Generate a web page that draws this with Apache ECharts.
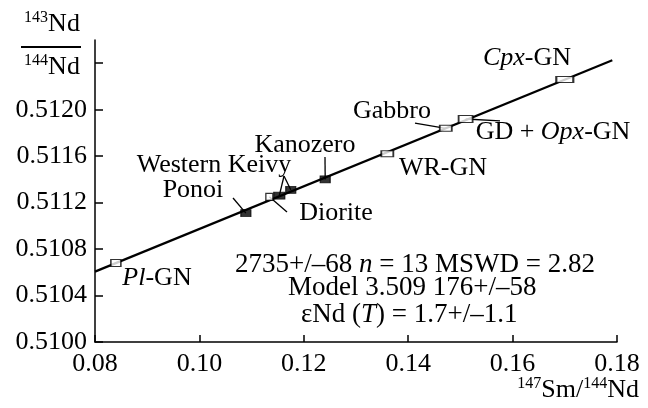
<!DOCTYPE html>
<html>
<head>
<meta charset="utf-8">
<script src="https://cdn.jsdelivr.net/npm/echarts@6/dist/echarts.min.js"></script>
<style>
  html, body { margin: 0; padding: 0; background: #fff; }
  #chart { width: 648px; height: 408px; }
</style>
</head>
<body>
<div id="chart"></div>
<script>
// Axis ticks
const xTicks = [0.08, 0.10, 0.12, 0.14, 0.16, 0.18];
const yTicks = [0.5100, 0.5104, 0.5108, 0.5112, 0.5116, 0.5120, 0.5124];
const yTickLabels = [0.5100, 0.5104, 0.5108, 0.5112, 0.5116, 0.5120];

// Open boxes: mineral separates and whole rock
const openNames = ['Pl-GN', 'Diorite', 'WR-GN', 'Gabbro', 'GD + Opx-GN', 'Cpx-GN'];
const openX = [0.0840, 0.1134, 0.1360, 0.1472, 0.1510, 0.1700];
const openY = [0.51068, 0.51125, 0.51162, 0.51184, 0.51192, 0.51226];

// Filled boxes: regional samples
const filledNames = ['Ponoi', 'Western Keivy', 'Western Keivy', 'Kanozero'];
const filledX = [0.1089, 0.1153, 0.1175, 0.1241];
const filledY = [0.51111, 0.51126, 0.51131, 0.51140];

// Isochron end points
const isochronX = [0.08, 0.1791];
const isochronY = [0.510606, 0.512425];

// Label leader anchors (data space) and the sample each one points to
const leaderAnchors = [
  { from: [0.10644, 0.511240], set: 'filled', idx: 0 },
  { from: [0.11678, 0.511119], set: 'open', idx: 1 },
  { from: [0.11621, 0.511429], set: 'filled', idx: 1 },
  { from: [0.11621, 0.511429], set: 'filled', idx: 2 },
  { from: [0.12406, 0.511593], set: 'filled', idx: 3 },
  { from: [0.14130, 0.511885], set: 'open', idx: 3 },
  { from: [0.15759, 0.511903], set: 'open', idx: 4 }
];

// Box sizes (error boxes drawn as rectangles)
const openBoxSize = [[10, 7], [7, 7], [12, 6], [12, 6], [14, 7], [17, 6]];
const filledBoxSize = [[10, 7], [11, 7], [10, 7], [10, 7]];

const FONT = 'Liberation Serif';
const FS = 26;

function pt(set, i) {
  return set === 'open' ? [openX[i], openY[i]] : [filledX[i], filledY[i]];
}

const leaderSeries = leaderAnchors.map(function (a) {
  return {
    type: 'line',
    data: [a.from, pt(a.set, a.idx)],
    symbol: 'none',
    silent: true,
    z: 2,
    lineStyle: { color: '#000', width: 1.3 }
  };
});

function txt(x, y, text, opts) {
  opts = opts || {};
  const fs = opts.fontSize || FS;
  return {
    type: 'text',
    x: x, y: y,
    z: 10,
    style: {
      text: text,
      fontFamily: FONT,
      fontSize: fs,
      fill: '#000',
      align: opts.align || 'center',
      verticalAlign: opts.verticalAlign || 'middle',
      rich: {
        i: { fontFamily: FONT, fontSize: fs, fontStyle: 'italic', fill: '#000' },
        m: { fontFamily: FONT, fontSize: fs, fill: '#000', lineHeight: 28 },
        s: { fontFamily: FONT, fontSize: 16, fill: '#000', verticalAlign: 'top', lineHeight: 28 }
      }
    }
  };
}

const chart = echarts.init(document.getElementById('chart'));

chart.setOption({
  animation: false,
  backgroundColor: '#fff',
  grid: { left: 95, right: 31, top: 40, bottom: 66 },
  xAxis: {
    type: 'value',
    min: xTicks[0], max: xTicks[xTicks.length - 1], interval: 0.02,
    axisLine: { lineStyle: { color: '#000', width: 1.5 } },
    axisTick: { inside: true, length: 7, lineStyle: { color: '#000', width: 1.5 } },
    splitLine: { show: false },
    axisLabel: {
      color: '#000', fontFamily: FONT, fontSize: FS, margin: 9,
      formatter: function (v) { return v.toFixed(2); }
    }
  },
  yAxis: {
    type: 'value',
    min: 0.5100, max: 0.5126, interval: 0.0004,
    axisLine: { lineStyle: { color: '#000', width: 1.5 } },
    axisTick: { inside: true, length: 8, customValues: yTicks, lineStyle: { color: '#000', width: 1.5 } },
    splitLine: { show: false },
    axisLabel: {
      color: '#000', fontFamily: FONT, fontSize: FS, margin: 8,
      customValues: yTickLabels,
      formatter: function (v) { return v.toFixed(4); }
    }
  },
  series: [
    {
      type: 'line',
      data: isochronX.map(function (x, i) { return [x, isochronY[i]]; }),
      symbol: 'none',
      silent: true,
      z: 1,
      lineStyle: { color: '#000', width: 2.2 }
    }
  ].concat(leaderSeries).concat([
    {
      type: 'scatter',
      name: 'open',
      z: 5,
      symbol: 'rect',
      data: openX.map(function (x, i) {
        return { name: openNames[i], value: [x, openY[i]], symbolSize: openBoxSize[i] };
      }),
      itemStyle: { color: '#fff', borderColor: '#000', borderWidth: 1.3 }
    },
    {
      type: 'scatter',
      name: 'filled',
      z: 5,
      symbol: 'rect',
      data: filledX.map(function (x, i) {
        return { name: filledNames[i], value: [x, filledY[i]], symbolSize: filledBoxSize[i] };
      }),
      itemStyle: { color: '#000', borderColor: '#000', borderWidth: 1 }
    }
  ]),
  graphic: [
    // y-axis name as a ratio
    txt(52, 24, '{s|143}{m|Nd}'),
    { type: 'line', shape: { x1: 21, y1: 47, x2: 81, y2: 47 }, style: { stroke: '#000', lineWidth: 2 } },
    txt(52, 67, '{s|144}{m|Nd}'),
    // x-axis name
    txt(639, 390, '{s|147}{m|Sm/}{s|144}{m|Nd}', { align: 'right' }),
    // sample labels
    txt(157, 278, '{i|Pl}-GN'),
    txt(193, 190, 'Ponoi'),
    txt(214, 165, 'Western Keivy'),
    txt(336, 213, 'Diorite'),
    txt(305, 145, 'Kanozero'),
    txt(443, 168, 'WR-GN'),
    txt(392, 111, 'Gabbro'),
    txt(553, 132, 'GD + {i|Opx}-GN'),
    txt(527, 58, '{i|Cpx}-GN'),
    // isochron statistics
    txt(235, 265, '2735+/\u201368 {i|n} = 13 MSWD = 2.82', { align: 'left', fontSize: 27 }),
    txt(288, 288, 'Model 3.509 176+/\u201358', { align: 'left', fontSize: 27 }),
    txt(301, 315, '\u03b5Nd ({i|T}) = 1.7+/\u20131.1', { align: 'left', fontSize: 27 })
  ]
});
</script>
</body>
</html>
